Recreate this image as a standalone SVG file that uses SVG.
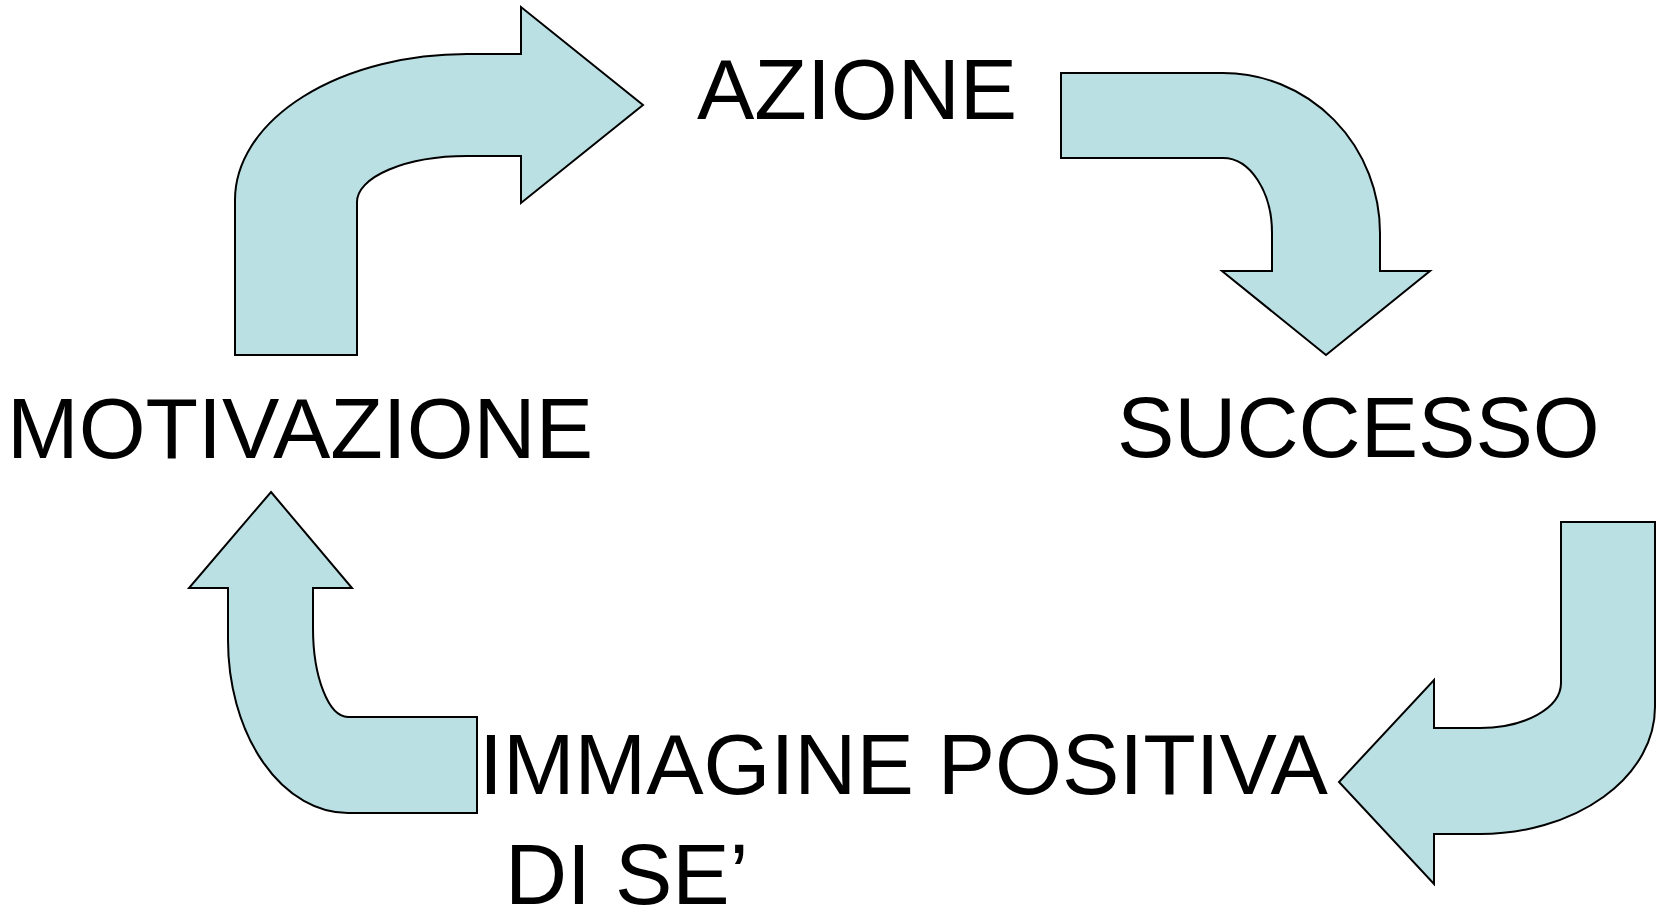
<svg xmlns="http://www.w3.org/2000/svg" width="1661" height="910" viewBox="0 0 1661 910">
<style>
.arrow{fill:#BAE0E3;stroke:#000;stroke-width:2;stroke-linejoin:miter}
.lbl{font-family:"Liberation Sans",Arial,sans-serif;font-size:86px;fill:#000}
</style>
<rect width="1661" height="910" fill="#fff"/>
<g id="connectors">
<path class="arrow" d="M235,355 L235,200 A232,146 0 0 1 467,54 L521,54 L521,7 L643,105 L521,203 L521,156 L467,156 A110,46 0 0 0 357,202 L357,355 Z"/>
<path class="arrow" d="M1061,73 L1223,73 A157,160 0 0 1 1380,233 L1380,271 L1430,271 L1326,355 L1222,271 L1272,271 L1272,233 A49,75 0 0 0 1223,158 L1061,158 Z"/>
<path class="arrow" d="M1561,522 L1655,522 L1655,707 A175,127 0 0 1 1480,834 L1434,834 L1434,884 L1339,782 L1434,680 L1434,728 L1480,728 A81,45 0 0 0 1561,683 Z"/>
<path class="arrow" d="M271,492 L352,588 L313,588 L313,628 A35,89 0 0 0 348,717 L477,717 L477,813 L348,813 A120,173 0 0 1 228,640 L228,588 L189,588 Z"/>
</g>
<g id="azione"><text class="lbl" x="697" y="119">AZIONE</text></g>
<g id="successo"><text class="lbl" x="1117" y="457">SUCCESSO</text></g>
<g id="immagine"><text class="lbl" x="479" y="794">IMMAGINE POSITIVA</text><text class="lbl" x="505" y="904">DI SE’</text></g>
<g id="motivazione"><text class="lbl" x="7" y="458">MOTIVAZIONE</text></g>
</svg>
